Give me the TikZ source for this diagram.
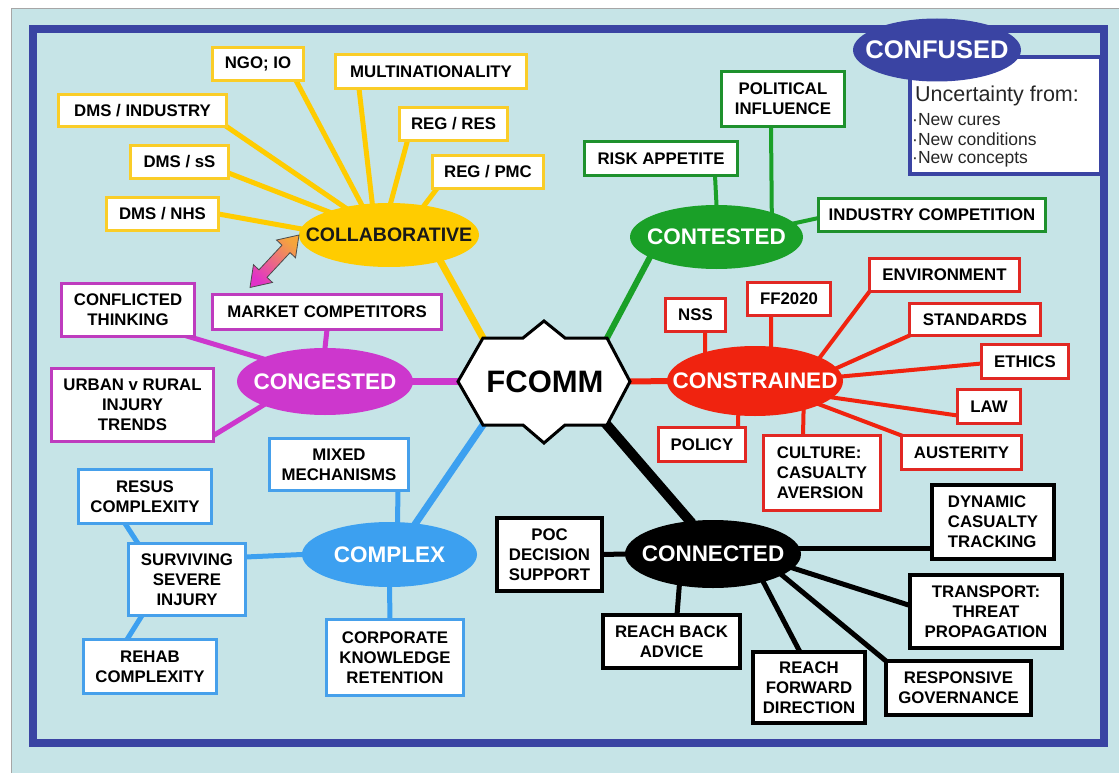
\documentclass[tikz,border=0pt]{standalone}
\usepackage{fontspec}
\setmainfont{Liberation Sans}
\usetikzlibrary{shapes.geometric,calc}
\pgfdeclarelayer{back}
\pgfdeclarelayer{lines}
\pgfdeclarelayer{shapes}
\pgfsetlayers{back,lines,shapes,main}
\definecolor{bgc}{RGB}{198,228,231}
\definecolor{framec}{RGB}{58,68,163}
\definecolor{yel}{RGB}{255,204,0}
\definecolor{yelb}{RGB}{250,205,40}
\definecolor{grn}{RGB}{26,160,40}
\definecolor{grnb}{RGB}{30,145,45}
\definecolor{redc}{RGB}{240,35,15}
\definecolor{redb}{RGB}{225,40,35}
\definecolor{mag}{RGB}{205,55,205}
\definecolor{magb}{RGB}{190,60,190}
\definecolor{blu}{RGB}{60,160,240}
\definecolor{blub}{RGB}{70,160,235}
\definecolor{arror}{RGB}{245,165,60}
\definecolor{armg}{RGB}{225,50,200}
\newcommand{\hubtext}[1]{\makebox[0pt]{#1}}
\begin{document}
\begin{tikzpicture}[x=1pt,y=-1pt,
 bx/.style={rectangle, draw, fill=white, line width=3pt, inner sep=0pt, outer sep=0pt, align=center, text=black, font=\bfseries\fontsize{16.8}{20}\selectfont},
 sz/.style 2 args={minimum width=#1pt, minimum height=#2pt},
 ybx/.style={bx, draw=yelb}, gbx/.style={bx, draw=grnb}, rbx/.style={bx, draw=redb},
 mbx/.style={bx, draw=magb}, bbx/.style={bx, draw=blub}, kbx/.style={bx, draw=black, line width=4pt},
 hub/.style={ellipse, inner sep=0pt, outer sep=0pt, text=white, font=\bfseries\fontsize{22.5}{26}\selectfont},
 conn/.style={line width=#1pt, shorten <=-3pt, shorten >=-5pt},
 yl/.style={conn=5, draw=yel}, gl/.style={conn=4, draw=grn}, rl/.style={conn=4, draw=redc},
 ml/.style={conn=5, draw=mag}, bl/.style={conn=5, draw=blu}, kl/.style={conn=5, draw=black},
 untext/.style={anchor=west, inner sep=0pt, text=black!85, font=\fontsize{17.5}{20}\selectfont}
]
\useasboundingbox (0,0) rectangle (1119,773);
\begin{pgfonlayer}{back}
\fill[white] (0,0) rectangle (1119,773);
\fill[bgc] (11,9) rectangle (1119,773);
\draw[gray!70, line width=1pt] (1119,9) -- (11,9) -- (11,773);
\draw[framec, line width=8pt] (33,29.5) rectangle (1103.5,743);
\end{pgfonlayer}

% confused
\node[draw=framec, fill=white, line width=4pt, sz={191}{117}, inner sep=0pt, outer sep=0pt] (uncbox) at (1005.5,115.5) {};
\node[ellipse, fill=framec, inner sep=0pt, sz={168}{63}, text=white, font=\bfseries\fontsize{25.5}{28}\selectfont] (confused) at (937,50) {\hubtext{CONFUSED}};
\node[anchor=west, inner sep=0pt, text=black!85, font=\fontsize{21.5}{24}\selectfont] (unc1) at (915,96) {Uncertainty from:};
\node[untext] (unc2) at (912,120) {·New cures};
\node[untext] (unc3) at (912,139.5) {·New conditions};
\node[untext] (unc4) at (912,159) {·New concepts};

% yellow
\node[ybx, sz={91}{33}] (ngo) at (258,64) {NGO; IO};
\node[ybx, sz={191}{34}] (multi) at (431,71.5) {MULTINATIONALITY};
\node[ybx, sz={168}{32}] (dmsind) at (142.5,110.5) {DMS / INDUSTRY};
\node[ybx, sz={108}{33}] (regres) at (453.5,124) {REG / RES};
\node[ybx, sz={98}{33}] (dmss) at (179.5,162) {DMS / sS};
\node[ybx, sz={111}{33}] (regpmc) at (488,172) {REG / PMC};
\node[ybx, sz={112}{33}] (dmsnhs) at (162.5,214) {DMS / NHS};
\node[hub, fill=yel, text=black!90, font=\bfseries\fontsize{19.5}{22}\selectfont, sz={180}{64}] (collab) at (389,235) {\hubtext{COLLABORATIVE}};

% green
\node[gbx, sz={123}{55}] (political) at (783,99) {POLITICAL\\INFLUENCE};
\node[gbx, sz={153}{34}] (risk) at (661,158.5) {RISK APPETITE};
\node[gbx, sz={227}{33}] (industry) at (932,215) {INDUSTRY COMPETITION};
\node[hub, fill=grn, sz={173}{64}] (contested) at (716.5,237) {\hubtext{CONTESTED}};

% red
\node[rbx, sz={60}{33}] (nss) at (695.5,315) {NSS};
\node[rbx, sz={83}{33}] (ff) at (789,299) {FF2020};
\node[rbx, sz={150}{33}] (environment) at (944.5,275) {ENVIRONMENT};
\node[rbx, sz={131}{32}] (standards) at (975,319.5) {STANDARDS};
\node[rbx, sz={87}{34}] (ethics) at (1025,361.5) {ETHICS};
\node[rbx, sz={63}{34}] (law) at (989,406.5) {LAW};
\node[rbx, sz={120}{34}] (austerity) at (961.5,452.5) {AUSTERITY};
\node[rbx, sz={87}{34}] (policy) at (702,444.5) {POLICY};
\node[rbx, sz={117}{75}, align=left] (culture) at (822,473) {CULTURE:\\CASUALTY\\AVERSION};
\node[hub, fill=redc, sz={176}{70}] (constrained) at (755,381) {\hubtext{CONSTRAINED}};

% magenta
\node[mbx, sz={133}{53}] (conflicted) at (128,310) {CONFLICTED\\THINKING};
\node[mbx, sz={229}{35}] (market) at (327,312) {MARKET COMPETITORS};
\node[mbx, sz={162}{73}] (urban) at (132.5,405) {URBAN v RURAL\\INJURY\\TRENDS};
\node[hub, fill=mag, sz={176}{67}] (congested) at (325,381.5) {\hubtext{CONGESTED}};

% blue
\node[bbx, sz={139}{52}] (mixed) at (339,464.5) {MIXED\\MECHANISMS};
\node[bbx, sz={133}{54}] (resus) at (145,496.5) {RESUS\\COMPLEXITY};
\node[bbx, sz={117}{72}] (surviving) at (187,579.5) {SURVIVING\\SEVERE\\INJURY};
\node[bbx, sz={133}{54}] (rehab) at (150,666.5) {REHAB\\COMPLEXITY};
\node[bbx, sz={137}{76}] (corporate) at (395,657.5) {CORPORATE\\KNOWLEDGE\\RETENTION};
\node[hub, fill=blu, sz={175}{65}] (complex) at (389.5,554.5) {\hubtext{COMPLEX}};

% black
\node[kbx, sz={105}{73}] (poc) at (549.5,554.5) {POC\\DECISION\\SUPPORT};
\node[kbx, sz={122}{74}, align=left] (dynamic) at (993,522) {DYNAMIC\\CASUALTY\\TRACKING};
\node[kbx, sz={152}{73}] (transport) at (986,611.5) {TRANSPORT:\\THREAT\\PROPAGATION};
\node[kbx, sz={137}{53}] (reachback) at (671.5,641.5) {REACH BACK\\ADVICE};
\node[kbx, sz={112}{71}] (reachfwd) at (809,687.5) {REACH\\FORWARD\\DIRECTION};
\node[kbx, sz={145}{54}] (responsive) at (958.5,688) {RESPONSIVE\\GOVERNANCE};
\node[hub, fill=black, sz={176}{68}] (connected) at (713,554) {\hubtext{CONNECTED}};

% centre
\node[rectangle, inner sep=0pt, outer sep=0pt, sz={124}{87}, font=\bfseries\fontsize{31}{34}\selectfont] (fcomm) at (545,381.5) {FCOMM};
\begin{pgfonlayer}{shapes}
\draw[line width=3pt, fill=white, line join=miter] (fcomm.north west) -- ++(40,0) -- ++(21,-17) -- ++(21,17) -- (fcomm.north east) -- ($(fcomm.east)+(23,0)$) -- (fcomm.south east) -- ++(-42,0) -- ++(-21,18) -- ++(-21,-18) -- (fcomm.south west) -- ($(fcomm.west)+(-25,0)$) -- cycle;
\end{pgfonlayer}

% connectors
\begin{pgfonlayer}{lines}
\draw[yl] ([xshift=38pt]ngo.south) -- (collab.132);
\draw[yl] ([xshift=-72pt]multi.south) -- (collab.118);
\draw[yl] ([xshift=-46pt]regres.south) -- (collab.87);
\draw[yl] ([xshift=-51pt]regpmc.south) -- (collab.40);
\draw[yl] (dmsind.south east) -- (collab.148);
\draw[yl] ([yshift=-11pt]dmss.east) -- (collab.159);
\draw[yl] (dmsnhs.east) -- (collab.176);
\draw[yl, line width=7pt] (collab.-27) -- (fcomm.north west);

\draw[gl] ([xshift=54pt]risk.south) -- (contested.north);
\draw[gl] ([xshift=-12pt]political.south) -- (contested.24.5);
\draw[gl] ([yshift=-3pt]industry.west) -- (contested.10);
\draw[gl, line width=6pt] (contested.197) -- (fcomm.north east);

\draw[rl] ([xshift=9.5pt]nss.south) -- (constrained.150);
\draw[rl] ([xshift=-18pt]ff.south) -- (constrained.65);
\draw[rl] (environment.south west) -- (constrained.20);
\draw[rl] (standards.south west) -- (constrained.9);
\draw[rl] ([yshift=-2pt]ethics.west) -- (constrained.3);
\draw[rl] ([yshift=8pt]law.south west) -- (constrained.-12);
\draw[rl] (austerity.north west) -- (constrained.-20);
\draw[rl] ([xshift=36pt]policy.north) -- (constrained.-116);
\draw[rl] ([xshift=-19pt]culture.north) -- (constrained.-31);
\draw[rl, line width=6pt] (fcomm) -- (constrained);

\draw[ml] ([xshift=-6pt]conflicted.south east) -- (congested.160);
\draw[ml] ([yshift=6pt]urban.south east) -- (congested.201);
\draw[ml] (market.south) -- (congested.north);
\draw[ml, line width=7pt] (congested) -- (fcomm);

\draw[bl] ([xshift=59pt]mixed.south) -- ([xshift=8pt]complex.north);
\draw[bl] ([yshift=22.5pt]surviving.east) -- (complex.west);
\draw[bl] ([xshift=-20pt]resus.south) -- ([xshift=-49pt]surviving.north);
\draw[bl] ([xshift=-45pt]surviving.south) -- ([xshift=-23pt]rehab.north);
\draw[bl] (complex.south) -- ([xshift=-5pt]corporate.north);
\draw[bl, line width=7pt] (complex.50) -- (fcomm.south west);

\draw[kl] (poc.east) -- (connected.west);
\draw[kl] ([yshift=-26pt]dynamic.west) -- ([yshift=6pt]connected.east);
\draw[kl] ([yshift=6pt]transport.west) -- (connected.-10);
\draw[kl] ([xshift=5.5pt]reachback.north) -- (connected.-137);
\draw[kl] ([xshift=-9pt]reachfwd.north) -- (connected.-29);
\draw[kl] (responsive.north west) -- (connected.-17);
\draw[kl, line width=10pt] (connected.125) -- (fcomm.south east);
\end{pgfonlayer}

% double arrow between collaborative and market competitors
\coordinate (aL) at ([xshift=-77pt,yshift=7pt]market.north);
\coordinate (aU) at (collab.west);
\coordinate (hL) at ($(aL)!19pt!(aU)$);
\coordinate (hU) at ($(aU)!19pt!(aL)$);
\shadedraw[top color=arror, bottom color=armg, shading angle=-42, draw=black!70, line width=0.8pt, line join=miter]
 (aL) -- ($(hL)!13pt!90:(aU)$) -- ($(hL)!5.5pt!90:(aU)$) -- ($(hU)!5.5pt!-90:(aL)$) -- ($(hU)!13pt!-90:(aL)$) -- (aU)
 -- ($(hU)!13pt!90:(aL)$) -- ($(hU)!5.5pt!90:(aL)$) -- ($(hL)!5.5pt!-90:(aU)$) -- ($(hL)!13pt!-90:(aU)$) -- cycle;
\end{tikzpicture}
\end{document}
